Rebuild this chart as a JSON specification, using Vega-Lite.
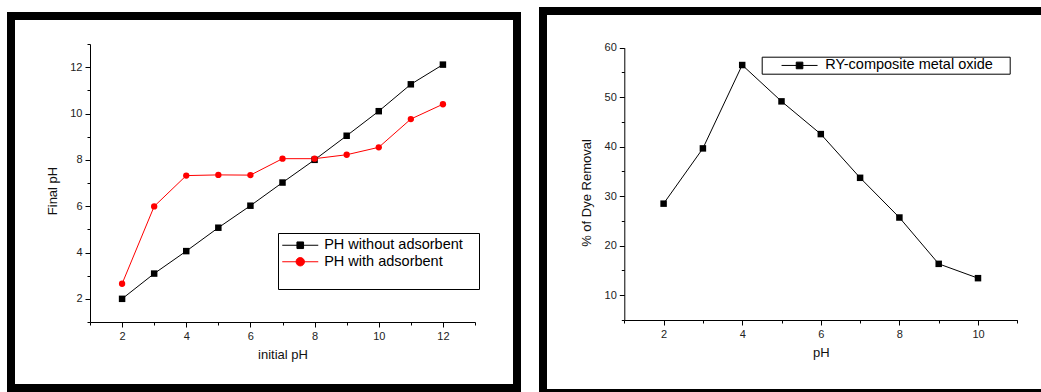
{
  "$schema": "https://vega.github.io/schema/vega-lite/v6.json",
  "padding": {"left": 7, "top": 7, "right": 0, "bottom": 0},
  "background": "white",
  "bounds": "flush",
  "center": true,
  "spacing": 26,
  "config": {
    "view": {"stroke": "black", "strokeWidth": 8},
    "axis": {
      "domainColor": "black", "tickColor": "black", "labelColor": "#222", "titleColor": "#111",
      "labelFont": "Liberation Sans", "titleFont": "Liberation Sans",
      "labelFontSize": 11, "titleFontSize": 13, "titleFontWeight": "normal",
      "grid": false, "labelPadding": 3, "titleBaseline": "middle"
    },
    "legend": {
      "labelFont": "Liberation Sans", "labelFontSize": 14.5, "labelColor": "black",
      "strokeColor": "black", "fillColor": "white", "symbolSize": 144,
      "symbolStrokeWidth": 1, "labelLimit": 400
    }
  },
  "resolve": {"scale": {"x": "independent", "y": "independent", "color": "independent"}, "legend": {"color": "independent"}},
  "datasets": {
    "ph": [
      {"initial": 2, "final": 2.0, "series": "PH without adsorbent"},
      {"initial": 3, "final": 3.09, "series": "PH without adsorbent"},
      {"initial": 4, "final": 4.06, "series": "PH without adsorbent"},
      {"initial": 5, "final": 5.07, "series": "PH without adsorbent"},
      {"initial": 6, "final": 6.02, "series": "PH without adsorbent"},
      {"initial": 7, "final": 7.02, "series": "PH without adsorbent"},
      {"initial": 8, "final": 8.0, "series": "PH without adsorbent"},
      {"initial": 9, "final": 9.04, "series": "PH without adsorbent"},
      {"initial": 10, "final": 10.1, "series": "PH without adsorbent"},
      {"initial": 11, "final": 11.26, "series": "PH without adsorbent"},
      {"initial": 12, "final": 12.11, "series": "PH without adsorbent"},
      {"initial": 2, "final": 2.65, "series": "PH with adsorbent"},
      {"initial": 3, "final": 5.99, "series": "PH with adsorbent"},
      {"initial": 4, "final": 7.32, "series": "PH with adsorbent"},
      {"initial": 5, "final": 7.35, "series": "PH with adsorbent"},
      {"initial": 6, "final": 7.34, "series": "PH with adsorbent"},
      {"initial": 7, "final": 8.05, "series": "PH with adsorbent"},
      {"initial": 8, "final": 8.05, "series": "PH with adsorbent"},
      {"initial": 9, "final": 8.22, "series": "PH with adsorbent"},
      {"initial": 10, "final": 8.54, "series": "PH with adsorbent"},
      {"initial": 11, "final": 9.76, "series": "PH with adsorbent"},
      {"initial": 12, "final": 10.4, "series": "PH with adsorbent"}
    ],
    "dye": [
      {"pH": 2, "removal": 28.5},
      {"pH": 3, "removal": 39.66},
      {"pH": 4, "removal": 56.5},
      {"pH": 5, "removal": 49.16},
      {"pH": 6, "removal": 42.55},
      {"pH": 7, "removal": 33.72},
      {"pH": 8, "removal": 25.7},
      {"pH": 9, "removal": 16.34},
      {"pH": 10, "removal": 13.45}
    ]
  },
  "hconcat": [
    {
      "width": 506,
      "height": 372,
      "data": {"name": "ph"},
      "encoding": {
        "x": {
          "field": "initial", "type": "quantitative",
          "scale": {"domain": [1, 13], "range": [79, 464], "nice": false, "zero": false},
          "axis": {
            "values": [1, 2, 3, 4, 5, 6, 7, 8, 9, 10, 11, 12, 13],
            "labelExpr": "datum.value % 2 == 0 ? datum.label : ''",
            "offset": -66, "title": "initial pH", "titleY": 32,
            "tickSize": {"condition": {"test": "datum.value % 2 == 0", "value": 5}, "value": 3}
          }
        },
        "y": {
          "field": "final", "type": "quantitative",
          "scale": {"domain": [1, 13], "range": [306, 28], "nice": false, "zero": false},
          "axis": {
            "values": [1, 2, 3, 4, 5, 6, 7, 8, 9, 10, 11, 12, 13],
            "labelExpr": "datum.value % 2 == 0 ? datum.label : ''",
            "offset": -79, "title": "Final pH", "titleX": -38, "titleY": 174.5,
            "tickSize": {"condition": {"test": "datum.value % 2 == 0", "value": 5}, "value": 3}
          }
        },
        "color": {
          "field": "series", "type": "nominal",
          "scale": {"domain": ["PH without adsorbent", "PH with adsorbent"], "range": ["black", "#ff0000"]},
          "legend": {
            "orient": "none", "legendX": 267, "legendY": 217,
            "title": [" ", " ", " "], "titleOrient": "right", "titleAnchor": "start",
            "titleFontSize": 13, "titleLineHeight": 16.5, "titlePadding": 11,
            "padding": 5, "rowPadding": 1.5, "symbolOffset": 10, "labelOffset": 16.7,
            "encode": {
              "symbols": {
                "update": {
                  "shape": {"signal": "datum.value === 'PH with adsorbent' ? 'M-3,0H3M0.7,0A0.7,0.7,0,1,1,-0.7,0A0.7,0.7,0,1,1,0.7,0Z' : 'M-3,0H3M-0.55,-0.55H0.55V0.55H-0.55Z'"},
                  "fill": {"signal": "datum.value === 'PH with adsorbent' ? '#ff0000' : 'black'"},
                  "stroke": {"signal": "datum.value === 'PH with adsorbent' ? '#ff0000' : 'black'"},
                  "strokeWidth": {"value": 1},
                  "opacity": {"value": 1}
                }
              }
            }
          }
        }
      },
      "layer": [
        {"mark": {"type": "line", "strokeWidth": 1}},
        {
          "transform": [{"filter": "datum.series === 'PH without adsorbent'"}],
          "mark": {"type": "point", "filled": true, "opacity": 1, "size": 42, "shape": "square"}
        },
        {
          "transform": [{"filter": "datum.series === 'PH with adsorbent'"}],
          "mark": {"type": "point", "filled": true, "opacity": 1, "size": 40, "shape": "circle"}
        }
      ]
    },
    {
      "width": 510,
      "height": 382,
      "data": {"name": "dye"},
      "encoding": {
        "x": {
          "field": "pH", "type": "quantitative",
          "scale": {"domain": [1, 11], "range": [81.3, 474.3], "nice": false, "zero": false},
          "axis": {
            "values": [1, 2, 3, 4, 5, 6, 7, 8, 9, 10, 11],
            "labelExpr": "datum.value % 2 == 0 ? datum.label : ''",
            "offset": -73, "title": "pH", "titleY": 32.3,
            "tickSize": {"condition": {"test": "datum.value % 2 == 0", "value": 5}, "value": 3}
          }
        },
        "y": {
          "field": "removal", "type": "quantitative",
          "scale": {"domain": [5, 60], "range": [309, 36.7], "nice": false, "zero": false},
          "axis": {
            "values": [5, 10, 15, 20, 25, 30, 35, 40, 45, 50, 55, 60],
            "labelExpr": "datum.value % 10 == 0 ? datum.label : ''",
            "offset": -81.3, "title": "% of Dye Removal", "titleX": -38.3, "titleY": 181.5,
            "tickSize": {"condition": {"test": "datum.value % 10 == 0", "value": 5}, "value": 3}
          }
        },
        "color": {
          "datum": "RY-composite metal oxide", "type": "nominal",
          "scale": {"range": ["black"]},
          "legend": {
            "orient": "none", "legendX": 218.7, "legendY": 45.7,
            "title": " ", "titleOrient": "right", "titleFontSize": 10, "titlePadding": 15,
            "padding": 1.5, "symbolOffset": 29.1, "labelOffset": 18.4,
            "encode": {
              "symbols": {
                "update": {
                  "shape": {"value": "M-3,0H3M-0.55,-0.55H0.55V0.55H-0.55Z"},
                  "fill": {"value": "black"},
                  "stroke": {"value": "black"},
                  "strokeWidth": {"value": 1},
                  "opacity": {"value": 1}
                }
              }
            }
          }
        }
      },
      "layer": [
        {"mark": {"type": "line", "strokeWidth": 1}},
        {"mark": {"type": "point", "filled": true, "opacity": 1, "size": 42, "shape": "square"}}
      ]
    }
  ]
}
